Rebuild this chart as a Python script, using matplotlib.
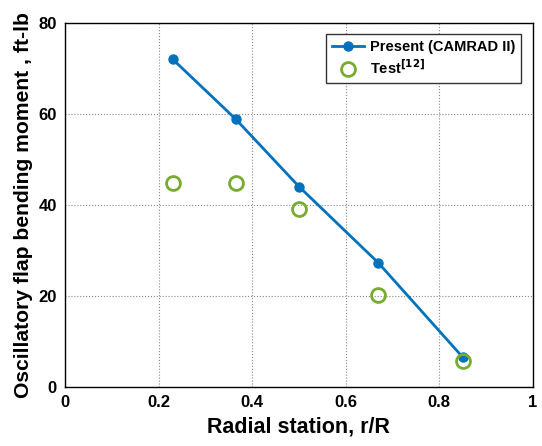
import matplotlib
matplotlib.use("Agg")
import matplotlib.pyplot as plt

plt.rcParams['font.family'] = ['Liberation Sans', 'DejaVu Sans']
plt.rcParams['font.weight'] = 'bold'

# Present (CAMRAD II)
r_present = [0.23, 0.365, 0.5, 0.67, 0.85]
m_present = [72.1, 58.9, 44.1, 27.3, 6.6]

# Test data
r_test = [0.23, 0.365, 0.5, 0.67, 0.85]
m_test = [44.9, 44.9, 39.1, 20.2, 5.7]

fig = plt.figure(figsize=(5.42, 4.46), dpi=100)
ax = fig.add_axes([0.12, 0.132, 0.863, 0.816])

ax.plot(r_present, m_present, '-o', color='#0072BD', lw=2, ms=6.5,
        label='Present (CAMRAD II)')
ax.plot(r_test, m_test, 'o', color='#77AC30', mfc='none', mew=2, ms=10,
        label='Test$^{\\mathbf{[12]}}$')

ax.set_xlim(0, 1)
ax.set_ylim(0, 80)
ax.set_xticks([0, 0.2, 0.4, 0.6, 0.8, 1])
ax.set_xticklabels(['0', '0.2', '0.4', '0.6', '0.8', '1'])
ax.set_yticks([0, 20, 40, 60, 80])
ax.tick_params(labelsize=12, direction='in', length=0, pad=6)
ax.grid(True, ls=':', color='#888888', lw=0.8)
ax.set_xlabel('Radial station, r/R', fontsize=15.5, fontweight='bold')
ax.set_ylabel('Oscillatory flap bending moment , ft-lb', fontsize=15.2,
              fontweight='bold')
for s in ax.spines.values():
    s.set_linewidth(1.0)

leg = ax.legend(loc='upper right', fontsize=10.5, fancybox=False, framealpha=1,
                edgecolor='#333333', borderpad=0.4, handlelength=2.2,
                handletextpad=0.4, labelspacing=0.3,
                bbox_to_anchor=(0.99, 0.99))
leg.get_frame().set_linewidth(1.0)

fig.savefig('out.png', dpi=100)
